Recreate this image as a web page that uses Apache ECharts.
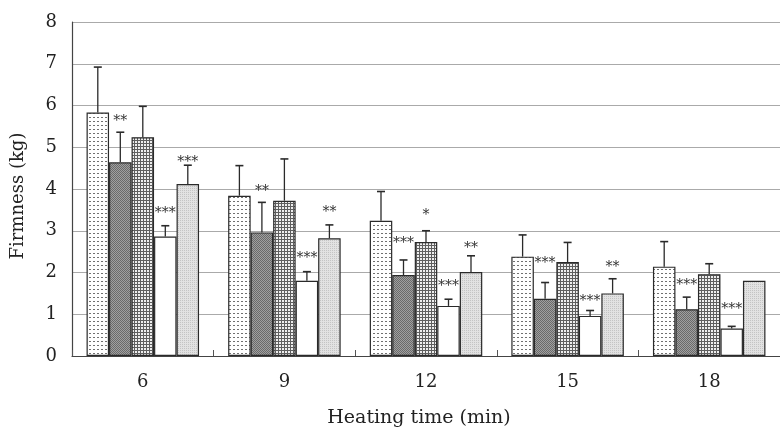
<!DOCTYPE html>
<html>
<head>
<meta charset="utf-8">
<script src="https://cdn.jsdelivr.net/npm/echarts@6/dist/echarts.min.js"></script>
<style>
html,body{margin:0;padding:0;background:#fff;}
#chart{width:780px;height:432px;}
</style>
</head>
<body>
<div id="chart"></div>
<script>
// ---- data ----
var categories = ['6', '9', '12', '15', '18'];
var yTicks = [0, 1, 2, 3, 4, 5, 6, 7, 8];

var mean1 = [5.83, 3.84, 3.24, 2.38, 2.14];
var err1  = [1.09, 0.72, 0.70, 0.52, 0.60];
var mean2 = [4.64, 2.96, 1.94, 1.37, 1.12];
var err2  = [0.72, 0.72, 0.36, 0.39, 0.29];
var mean3 = [5.24, 3.72, 2.73, 2.25, 1.96];
var err3  = [0.74, 1.00, 0.27, 0.47, 0.25];
var mean4 = [2.86, 1.80, 1.20, 0.96, 0.66];
var err4  = [0.26, 0.22, 0.16, 0.13, 0.05];
var mean5 = [4.12, 2.82, 2.01, 1.50, 1.80];
var err5  = [0.45, 0.32, 0.39, 0.35, 0.00];

// significance marks and the height (in kg) at which they are printed
var sig1 = ['', '', '', '', ''];
var sigY1 = [0, 0, 0, 0, 0];
var sig2 = ['**', '**', '***', '***', '***'];
var sigY2 = [5.70, 4.02, 2.76, 2.28, 1.77];
var sig3 = ['', '', '*', '', ''];
var sigY3 = [0, 0, 3.45, 0, 0];
var sig4 = ['***', '***', '***', '***', '***'];
var sigY4 = [3.48, 2.40, 1.73, 1.37, 1.18];
var sig5 = ['***', '**', '**', '**', ''];
var sigY5 = [4.72, 3.52, 2.64, 2.20, 0];

// ---- style ----
var FONT = 'DejaVu Serif';
var BW = 22.5;

function makePattern(w, h, draw) {
  var c = document.createElement('canvas');
  c.width = w; c.height = h;
  var ctx = c.getContext('2d');
  draw(ctx, w, h);
  return { image: c, repeat: 'repeat' };
}
var pat1 = makePattern(4, 4, function (ctx, w, h) {
  ctx.fillStyle = '#ffffff'; ctx.fillRect(0, 0, w, h);
  ctx.fillStyle = '#707070'; ctx.fillRect(1, 1, 2, 1);
});
var pat2 = makePattern(2, 2, function (ctx, w, h) {
  ctx.fillStyle = '#a0a0a0'; ctx.fillRect(0, 0, w, h);
  ctx.fillStyle = '#6a6a6a'; ctx.fillRect(0, 0, 1, 1); ctx.fillRect(1, 1, 1, 1);
});
var pat3 = makePattern(3, 3, function (ctx, w, h) {
  ctx.fillStyle = '#eeeeee'; ctx.fillRect(0, 0, w, h);
  ctx.fillStyle = '#5e5e5e'; ctx.fillRect(2, 0, 1, 3); ctx.fillRect(0, 2, 3, 1);
});
var pat4 = '#ffffff';
var pat5 = makePattern(2, 2, function (ctx, w, h) {
  ctx.fillStyle = '#e2e2e2'; ctx.fillRect(0, 0, w, h);
  ctx.fillStyle = '#c4c4c4'; ctx.fillRect(0, 0, 1, 1);
});

var means = [mean1, mean2, mean3, mean4, mean5];
var errs = [err1, err2, err3, err4, err5];
var sigs = [sig1, sig2, sig3, sig4, sig5];
var sigYs = [sigY1, sigY2, sigY3, sigY4, sigY5];
var fills = [pat1, pat2, pat3, pat4, pat5];

var series = [];
means.forEach(function (m, i) {
  series.push({
    type: 'bar',
    name: 'S' + (i + 1),
    data: m,
    barWidth: BW,
    barGap: '0%',
    itemStyle: { color: fills[i], borderColor: '#2a2a2a', borderWidth: 1.2 },
    z: 2,
    silent: true
  });
});
means.forEach(function (m, i) {
  var data = m.map(function (v, k) { return [k, v, errs[i][k], sigYs[i][k]]; });
  series.push({
    type: 'custom',
    name: 'E' + (i + 1),
    data: data,
    z: 5,
    silent: true,
    renderItem: function (params, api) {
      var k = api.value(0), v = api.value(1), e = api.value(2), sy = api.value(3);
      var off = (i - 2) * BW;
      var children = [];
      if (e > 0) {
        var p0 = api.coord([k, v]);
        var p1 = api.coord([k, v + e]);
        var x = p0[0] + off;
        children.push({ type: 'line', shape: { x1: x, y1: p0[1], x2: x, y2: p1[1] },
          style: { stroke: '#2a2a2a', lineWidth: 1.3 } });
        children.push({ type: 'line', shape: { x1: x - 4, y1: p1[1], x2: x + 4, y2: p1[1] },
          style: { stroke: '#2a2a2a', lineWidth: 1.6 } });
      }
      var s = sigs[i][params.dataIndex];
      if (s) {
        var ps = api.coord([k, sy]);
        children.push({ type: 'text', x: ps[0] + off, y: ps[1] + 3,
          style: { text: s, fill: '#333', font: '14px "' + FONT + '"', align: 'center', verticalAlign: 'middle' } });
      }
      return { type: 'group', children: children };
    }
  });
});

var chart = echarts.init(document.getElementById('chart'), null, { renderer: 'canvas' });
chart.setOption({
  animation: false,
  backgroundColor: '#ffffff',
  grid: { left: 72, top: 22, width: 716, bottom: 76, containLabel: false },
  xAxis: {
    type: 'category',
    data: categories,
    axisLine: { lineStyle: { color: '#444', width: 1.2 } },
    axisTick: { show: true, inside: true, length: 6, lineStyle: { color: '#555' } },
    axisLabel: { fontFamily: FONT, fontSize: 18, color: '#222', margin: 17 },
    splitLine: { show: false }
  },
  yAxis: {
    type: 'value',
    min: yTicks[0],
    max: yTicks[yTicks.length - 1],
    interval: 1,
    axisLine: { show: true, lineStyle: { color: '#444', width: 1.2 } },
    axisTick: { show: false },
    axisLabel: { fontFamily: FONT, fontSize: 18, color: '#222', margin: 15 },
    splitLine: { show: true, lineStyle: { color: '#aaa', width: 1 } }
  },
  graphic: [
    { type: 'text', x: 419, y: 418,
      style: { text: 'Heating time (min)', font: '19px "' + FONT + '"', fill: '#222', align: 'center', verticalAlign: 'middle' } },
    { type: 'text', x: 18, y: 196, rotation: Math.PI / 2,
      style: { text: 'Firmness (kg)', font: '18px "' + FONT + '"', fill: '#222', align: 'center', verticalAlign: 'middle' } }
  ],
  series: series
});
</script>
</body>
</html>
